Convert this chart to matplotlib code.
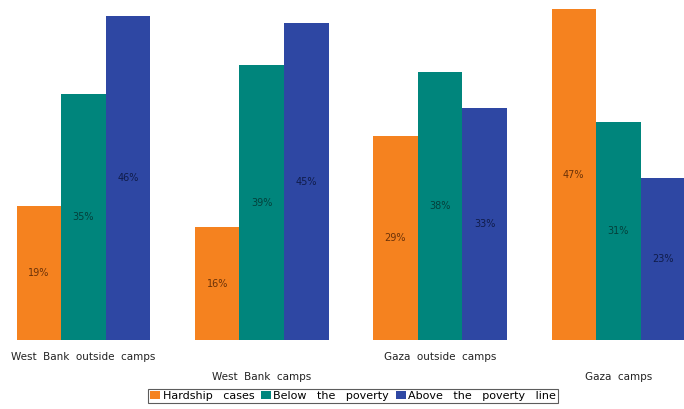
import matplotlib
matplotlib.use("Agg")
import matplotlib.pyplot as plt
import numpy as np
from matplotlib.transforms import blended_transform_factory

# data
groups = ["West  Bank  outside  camps", "West  Bank  camps",
          "Gaza  outside  camps", "Gaza  camps"]
series_names = ["Hardship   cases", "Below   the   poverty", "Above   the   poverty   line"]
hardship = [19, 16, 29, 47]
below = [35, 39, 38, 31]
above = [46, 45, 33, 23]

colors = ["#F5821F", "#00857C", "#2E47A3"]
label_colors = ["#6b3208", "#04403b", "#101c4a"]

fig = plt.figure(figsize=(6.84, 4.09), dpi=100)
ax = fig.add_axes([0, 0.1687, 1, 0.8264])

x = np.arange(len(groups))
w = 0.25
handles = []
for k, (vals, c, lc) in enumerate(zip([hardship, below, above], colors, label_colors)):
    pos = x + (k - 1) * w
    bars = ax.bar(pos, vals, width=w, color=c, edgecolor="none", label=series_names[k])
    handles.append(bars)
    for p, v in zip(pos, vals):
        ax.text(p, v / 2, f"{v}%", ha="center", va="center", fontsize=7, color=lc)

ax.set_xlim(-0.468, 3.368)
ax.set_ylim(0, 48)
ax.axis("off")

# category labels, staggered on two rows
trans = blended_transform_factory(ax.transData, fig.transFigure)
for i, g in enumerate(groups):
    yy = 1 - 357 / 409 if i % 2 == 0 else 1 - 377 / 409
    ax.text(x[i], yy, g, transform=trans, ha="center", va="center",
            fontsize=7.5, color="#222222")

leg = fig.legend(handles=handles, loc="center", bbox_to_anchor=(353 / 684, 1 - 396 / 409),
                 ncol=3, fontsize=8, frameon=True, fancybox=False, handlelength=0.9,
                 handleheight=0.8, handletextpad=0.2, columnspacing=0.6,
                 borderpad=0.2, borderaxespad=0)
leg.get_frame().set_edgecolor("#333333")
leg.get_frame().set_linewidth(0.8)

fig.savefig("out.png", dpi=100)
